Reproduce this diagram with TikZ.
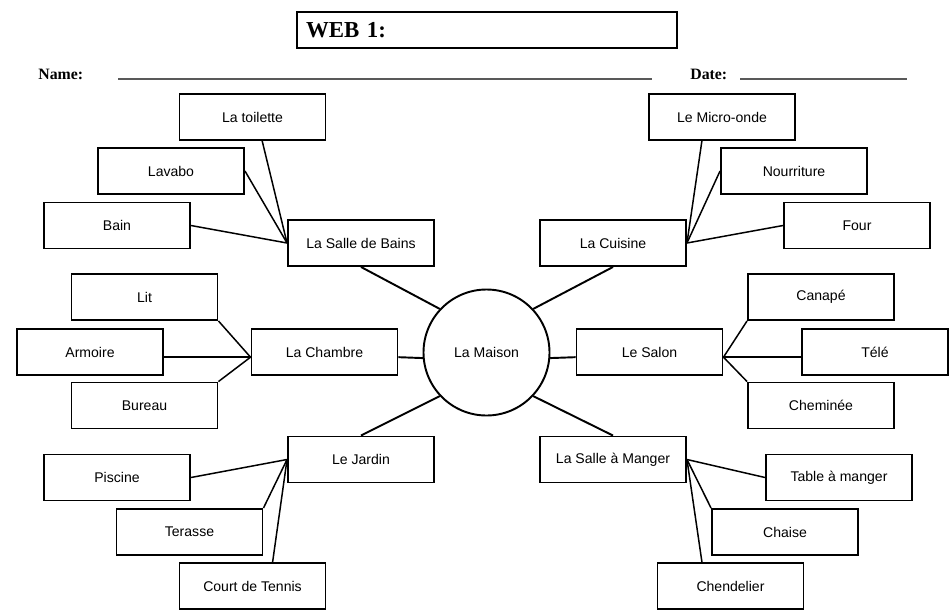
\documentclass[tikz,border=0pt]{standalone}
\usepackage{fontspec}
\setmainfont{Liberation Sans}
\newfontfamily\headfont{Liberation Serif}
\tikzset{
  box/.style={draw, line width=1.1pt, minimum width=29.2mm, minimum height=9.2mm,
    inner sep=0pt, font=\fontsize{8}{9.6}\selectfont},
  hub/.style={draw, circle, line width=1.1pt, minimum size=25.2mm, inner sep=0pt,
    font=\fontsize{8}{9.6}\selectfont},
  webbox/.style={draw, line width=1.2pt, minimum width=76mm, minimum height=7.2mm,
    text width=72.4mm, inner xsep=1.8mm, align=left,
    font=\headfont\bfseries\fontsize{13}{15}\selectfont},
  head/.style={anchor=base west, inner sep=0pt, font=\headfont\bfseries\fontsize{9}{11}\selectfont},
  rule/.style={black!65, line width=0.6pt},
  link/.style={line width=0.85pt},
  spoke/.style={line width=1.1pt}
}
\begin{document}
\begin{tikzpicture}[x=0.2mm,y=-0.2mm]
    \useasboundingbox (0,0) rectangle (951,611);
    \node[webbox] (web) at (487,30) {WEB 1:};
    \node[head] (name) at (38,79) {Name:};
    \node[head] (date) at (690,79) {Date:};
    \draw[rule] (118,79) -- (652,79);
    \draw[rule] (740,79) -- (907,79);

    \node[hub] (maison) at (486.5,352.5) {La Maison};

    \node[box] (bains) at (361,243) {La Salle de Bains};
    \node[box] (cuisine) at (613,243) {La Cuisine};
    \node[box] (chambre) at (324.5,352) {La Chambre};
    \node[box] (salon) at (649.5,352) {Le Salon};
    \node[box] (jardin) at (361,459.5) {Le Jardin};
    \node[box] (manger) at (613,459.5) {La Salle à Manger};

    \node[box] (toilette) at (252.5,117) {La toilette};
    \node[box] (lavabo) at (171,171) {Lavabo};
    \node[box] (bain) at (117,225.5) {Bain};
    \node[box] (micro) at (722,117) {Le Micro-onde};
    \node[box] (nourriture) at (794,171) {Nourriture};
    \node[box] (four) at (857,225.5) {Four};
    \node[box] (lit) at (144.5,297) {Lit};
    \node[box] (armoire) at (90,352) {Armoire};
    \node[box] (bureau) at (144.5,405.5) {Bureau};
    \node[box] (canape) at (821,297) {Canapé};
    \node[box] (tele) at (875,352) {Télé};
    \node[box] (cheminee) at (821,405.5) {Cheminée};
    \node[box] (piscine) at (117,477.5) {Piscine};
    \node[box] (terasse) at (189.5,532) {Terasse};
    \node[box] (court) at (252.5,586) {Court de Tennis};
    \node[box] (table) at (839,477.5) {Table à manger};
    \node[box] (chaise) at (785,532) {Chaise};
    \node[box] (chend) at (730.5,586) {Chendelier};

    \draw[spoke] (maison.137) -- (bains.south);
    \draw[spoke] (maison.43) -- (cuisine.south);
    \draw[spoke] (maison.-175) -- (chambre.-4);
    \draw[spoke] (maison.-5) -- (salon.-176);
    \draw[spoke] (maison.-137) -- (jardin.north);
    \draw[spoke] (maison.-43) -- (manger.north);

    \draw[link] (toilette.-68) -- (bains.west);
    \draw[link] (lavabo.east) -- (bains.west);
    \draw[link] (bain.east) -- (bains.west);
    \draw[link] (micro.-130) -- (cuisine.east);
    \draw[link] (nourriture.west) -- (cuisine.east);
    \draw[link] (four.west) -- (cuisine.east);
    \draw[link] (lit.south east) -- (chambre.-176);
    \draw[link] (armoire.-4) -- (chambre.-176);
    \draw[link] (bureau.north east) -- (chambre.-176);
    \draw[link] (canape.south west) -- (salon.-4);
    \draw[link] (tele.-176) -- (salon.-4);
    \draw[link] (cheminee.north west) -- (salon.-4);
    \draw[link] (piscine.east) -- (jardin.west);
    \draw[link] (terasse.north east) -- (jardin.west);
    \draw[link] (court.50) -- (jardin.west);
    \draw[link] (table.west) -- (manger.east);
    \draw[link] (chaise.north west) -- (manger.east);
    \draw[link] (chend.140) -- (manger.east);
\end{tikzpicture}
\end{document}
